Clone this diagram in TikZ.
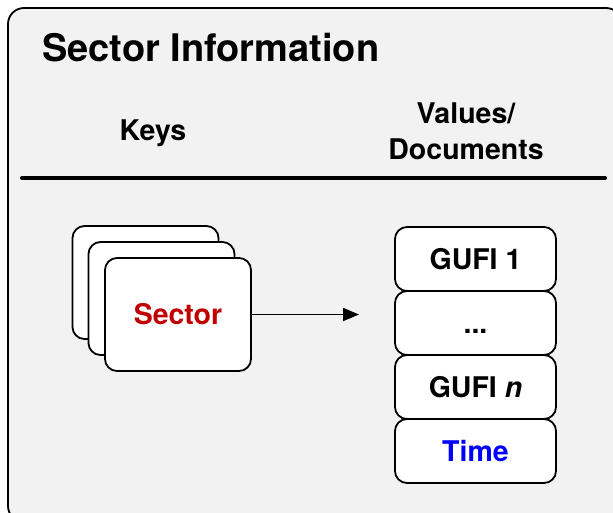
\documentclass[tikz,border=0pt]{standalone}
\usepackage{fontspec}
\setmainfont{TeX Gyre Heros}
\usetikzlibrary{arrows.meta}
\definecolor{bggray}{HTML}{F2F2F2}
\definecolor{sectorred}{HTML}{C00000}
\definecolor{timeblue}{HTML}{0000FF}
\begin{document}
\begin{tikzpicture}[x=1pt,y=-1pt,
  card/.style={draw=black,line width=1.8pt,fill=white,rounded corners=12pt,
    minimum width=146pt,minimum height=113pt,inner sep=0pt},
  valbox/.style={draw=black,line width=1.8pt,fill=white,rounded corners=12pt,
    minimum width=161pt,minimum height=64pt,inner sep=0pt,
    text height=20pt,text depth=0pt,font=\fontsize{28.5}{34}\selectfont\bfseries},
  lbl/.style={inner sep=0pt,anchor=base,font=\fontsize{28.5}{34}\selectfont\bfseries}]
\useasboundingbox (0,0) rectangle (613,512);
\begin{scope}
\clip (0,0) rectangle (613,512);
\draw[line width=1.8pt,fill=bggray,rounded corners=16pt] (8,8) rectangle (622,522);
\end{scope}
\node[inner sep=0pt,anchor=base west,font=\fontsize{38}{45}\selectfont\bfseries] (title) at (42,61) {Sector Information};
\node[lbl] (keys) at (153,140) {Keys};
\node[lbl] (values) at (466,123) {Values/};
\node[lbl] (docs) at (466,159) {Documents};
\coordinate (ruleL) at (22,178);
\coordinate (ruleR) at (605,178);
\draw[line width=4pt,line cap=round] (ruleL) -- (ruleR);
\node[card] (cardback) at (145.5,282.5) {};
\node[card] (cardmid) at (161.5,298.5) {};
\node[card,font=\fontsize{28.5}{34}\selectfont\bfseries,text=sectorred] (cardfront) at (178,314.5) {Sector};
\node[valbox] (gufi1) at (475.5,259) {GUFI 1};
\node[valbox] (dots) at (475.5,323) {...};
\node[valbox] (gufin) at (475.5,387) {GUFI \textit{n}};
\node[valbox,text=timeblue] (time) at (475.5,451) {Time};
\coordinate (arrEnd) at (359,314.5);
\draw[line width=1.8pt,-{Triangle[length=16pt,width=13pt]}] (cardfront.east) -- (arrEnd);
\end{tikzpicture}
\end{document}
